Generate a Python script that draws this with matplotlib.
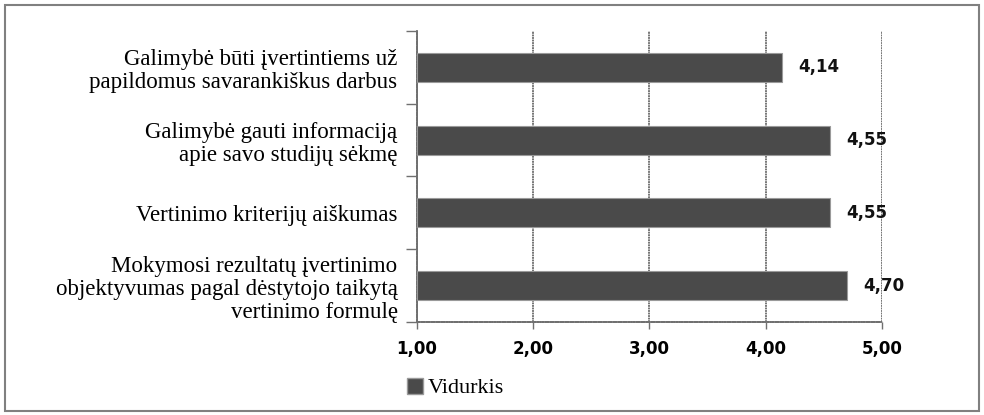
import matplotlib.pyplot as plt
from matplotlib.patches import Rectangle, Patch

# data (top to bottom in the chart)
categories = [
    "Galimybė būti įvertintiems už\npapildomus savarankiškus darbus",
    "Galimybė gauti informaciją\napie savo studijų sėkmę",
    "Vertinimo kriterijų aiškumas",
    "Mokymosi rezultatų įvertinimo\nobjektyvumas pagal dėstytojo taikytą\nvertinimo formulę",
]
values = [4.14, 4.55, 4.55, 4.70]
xticks = [1, 2, 3, 4, 5]
series_name = "Vidurkis"

fig = plt.figure(figsize=(9.84, 4.15), dpi=100)
ax = fig.add_axes([0.4238, 0.224, 0.4725, 0.7014])

ypos = list(range(len(categories)))
ax.barh(ypos, [v - 1 for v in values], left=1, height=0.4,
        color="#4a4a4a", edgecolor="#9a9a9a", linewidth=0.8, zorder=3,
        label=series_name)

for y, v in zip(ypos, values):
    ax.text(v + 0.14, y, f"{v:.2f}".replace(".", ","), va="center", ha="left",
            fontsize=12, fontweight="bold", family="DejaVu Sans", color="#111111", zorder=4)

ax.set_xlim(1, 5)
ax.set_ylim(len(categories) - 0.5, -0.5)
ax.set_xticks(xticks)
ax.set_xticklabels([f"{t:.2f}".replace(".", ",") for t in xticks],
                   fontsize=12, fontweight="bold", family="DejaVu Sans")
ax.set_yticks(ypos)
ax.set_yticklabels(categories, fontsize=16.5, family="Liberation Serif", linespacing=1.12)
ax.tick_params(axis="y", which="major", length=0, pad=14)
ax.set_yticks([i + 0.5 for i in range(-1, len(categories))], minor=True)
ax.tick_params(axis="y", which="minor", length=8, color="#707070", width=1)
ax.tick_params(axis="x", length=5, color="#707070", width=1, pad=8)

ax.xaxis.grid(True, color="#6a6a6a", linewidth=1.3, linestyle=(0, (1, 0.4)), zorder=1)
for s in ["top", "right"]:
    ax.spines[s].set_visible(False)
for s in ["left", "bottom"]:
    ax.spines[s].set_color("#707070")
    ax.spines[s].set_linewidth(1.3)
    ax.spines[s].set_linestyle((0, (1, 0.4)))

leg = fig.legend(handles=[Patch(facecolor="#4a4a4a", edgecolor="#9a9a9a", label=series_name)],
                 loc="center left", bbox_to_anchor=(0.393, 0.065), frameon=False,
                 prop={"family": "Liberation Serif", "size": 16},
                 handlelength=0.75, handleheight=0.75, handletextpad=0.2)

fig.patches.append(Rectangle((0.005, 0.01), 0.99, 0.978, transform=fig.transFigure,
                             fill=False, edgecolor="#808080", linewidth=1.5))

fig.savefig("out.png", dpi=100)
